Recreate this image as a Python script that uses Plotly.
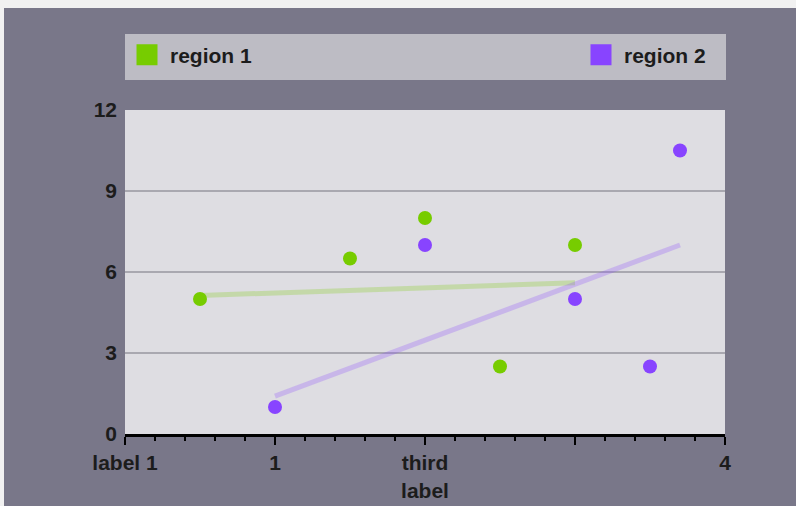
import plotly.graph_objects as go

# data
r1_x = [0.5, 1.5, 2, 2.5, 3]
r1_y = [5, 6.5, 8, 2.5, 7]
r2_x = [1, 2, 3, 3.5, 3.7]
r2_y = [1, 7, 5, 2.5, 10.5]
trend1_x = [0.5, 3]
trend1_y = [5.13, 5.6]
trend2_x = [1, 3.7]
trend2_y = [1.4, 7.0]
x_tickvals = [0, 1, 2, 3, 4]
x_ticktext = ["label 1", "1", "third<br>label", "", "4"]
y_tickvals = [0, 3, 6, 9, 12]
series_names = ["region 1", "region 2"]

GREEN = "#77cc00"
PURPLE = "#8844ff"
FONT = "Liberation Sans, Arial, sans-serif"
TXT = "#1c1c1c"

fig = go.Figure()
fig.add_trace(go.Scatter(x=trend1_x, y=trend1_y, mode="lines",
                         line=dict(color="rgba(119,204,0,0.25)", width=5),
                         showlegend=False, hoverinfo="skip"))
fig.add_trace(go.Scatter(x=trend2_x, y=trend2_y, mode="lines",
                         line=dict(color="rgba(136,68,255,0.25)", width=5),
                         showlegend=False, hoverinfo="skip"))
fig.add_trace(go.Scatter(x=r1_x, y=r1_y, mode="markers",
                         marker=dict(color=GREEN, size=14), showlegend=False))
fig.add_trace(go.Scatter(x=r2_x, y=r2_y, mode="markers",
                         marker=dict(color=PURPLE, size=14), showlegend=False))
# legend entries (square swatches)
fig.add_trace(go.Scatter(x=[None], y=[None], mode="markers", name=series_names[0],
                         marker=dict(color=GREEN, symbol="square", size=16,
                                     line=dict(color=GREEN, width=5)),
                         legend="legend"))
fig.add_trace(go.Scatter(x=[None], y=[None], mode="markers", name=series_names[1],
                         marker=dict(color=PURPLE, symbol="square", size=16,
                                     line=dict(color=PURPLE, width=5)),
                         legend="legend2"))

# page offset of the figure (body margin): figure starts at (4, 8) on screen
OX, OY = 4, 8
W, H = 796 - OX, 506 - OY
L, T = 125 - OX, 110 - OY
pw, ph = 600, 324
R, B = W - L - pw, H - T - ph


def px_x(p):
    """screen x pixel -> paper x"""
    return (p - OX - L) / pw


def px_y(p):
    """screen y pixel -> paper y"""
    return (T + ph - (p - OY)) / ph


shapes = [
    # legend box
    dict(type="rect", xref="paper", yref="paper", x0=px_x(125), x1=px_x(726),
         y0=px_y(80), y1=px_y(34), fillcolor="#bdbcc4", line=dict(width=0), layer="below"),
]

legfont = dict(family=FONT, size=21, color=TXT, weight="bold")

fig.update_layout(
    width=W, height=H,
    margin=dict(l=L, r=R, t=T, b=B, autoexpand=False),
    paper_bgcolor="#797789",
    plot_bgcolor="#dedde2",
    shapes=shapes,
    legend=dict(x=px_x(124), xanchor="left", y=px_y(55), yanchor="middle", itemwidth=36,
                bgcolor="rgba(0,0,0,0)", font=legfont, orientation="h"),
    legend2=dict(x=px_x(711), xanchor="right", y=px_y(55), yanchor="middle", itemwidth=36,
                 bgcolor="rgba(0,0,0,0)", font=legfont, orientation="h"),
    xaxis=dict(range=[0, 4], tickvals=x_tickvals, ticktext=x_ticktext, automargin=False,
               showgrid=False, zeroline=False, showline=True, linecolor="#000000",
               linewidth=3, ticks="outside", ticklen=8, tickwidth=2, tickcolor="#000000",
               minor=dict(dtick=0.2, ticks="outside", ticklen=4, tickwidth=1.5,
                          tickcolor="#000000", showgrid=False),
               tickfont=dict(family=FONT, size=21, color=TXT, weight="bold"),
               fixedrange=True),
    yaxis=dict(range=[0, 12], tickvals=y_tickvals, showgrid=True, gridcolor="#a9a8b0",
               gridwidth=1.5, zeroline=False, showline=False, ticks="", automargin=False,
               ticklabelstandoff=7,
               tickfont=dict(family=FONT, size=21, color=TXT, weight="bold"),
               fixedrange=True),
    font=dict(family=FONT),
)

fig.write_html("out.html",
               post_script="document.body.style.margin='8px 0 0 4px';"
                           "document.body.style.background='#f1f1f1';"
                           "document.body.style.overflow='hidden';")
